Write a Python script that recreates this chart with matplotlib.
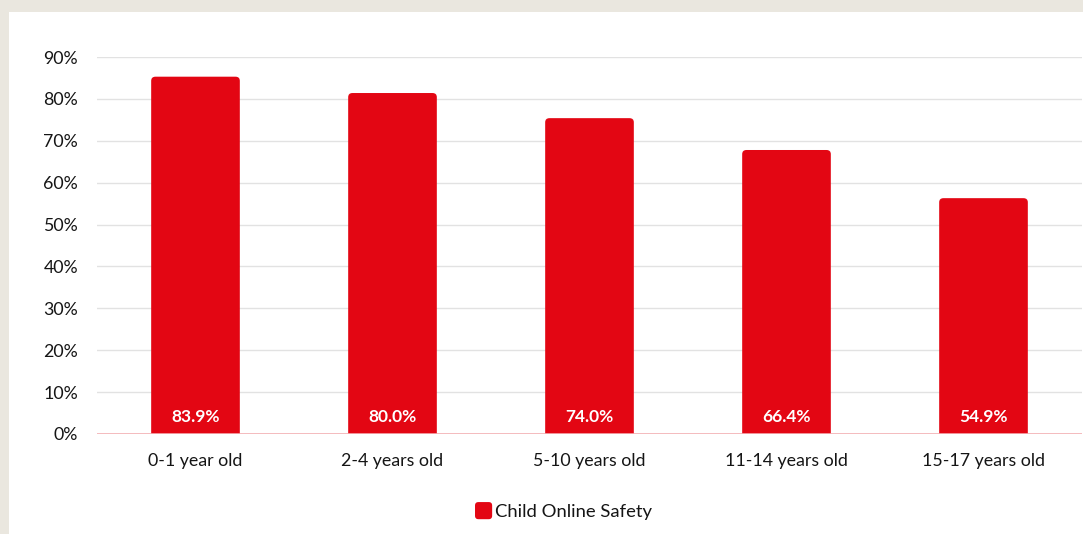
import matplotlib
matplotlib.use("Agg")
import matplotlib.pyplot as plt
from matplotlib.patches import FancyBboxPatch, Rectangle, Patch
from matplotlib.legend_handler import HandlerPatch

categories = ["0-1 year old", "2-4 years old", "5-10 years old", "11-14 years old", "15-17 years old"]
bar_heights = [85.3, 81.4, 75.4, 67.8, 56.3]
value_labels = ["83.9%", "80.0%", "74.0%", "66.4%", "54.9%"]
yticks = [0, 10, 20, 30, 40, 50, 60, 70, 80, 90]
ytick_labels = [f"{t}%" for t in yticks]
series_name = "Child Online Safety"

RED = "#E30613"
TEXT = "#151515"
plt.rcParams['font.family'] = ['Lato', 'DejaVu Sans']

W, H = 1083, 534
fig = plt.figure(figsize=(W / 100, H / 100), dpi=100)
fig.patch.set_facecolor("#EAE7DF")
panel = Rectangle((9 / W, 0), 1 - 9 / W, 1 - 12 / H, transform=fig.transFigure,
                  facecolor="white", edgecolor="none", zorder=-10)
fig.add_artist(panel)

ax = fig.add_axes([97 / W, 1 - 434 / H, (1082 - 97) / W, (434 - 57) / H])
ax.set_facecolor("none")
ax.set_xlim(-0.5, len(categories) - 0.5)
ax.set_ylim(0, 90)

bw = 0.45
for i, h in enumerate(bar_heights):
    p = FancyBboxPatch((i - bw / 2, -3), bw, h + 3,
                       boxstyle="round,pad=0,rounding_size=0.022",
                       mutation_aspect=45, facecolor=RED, edgecolor="none", zorder=2)
    ax.add_patch(p)
    ax.text(i, 4, value_labels[i], ha="center", va="center", color="white",
            fontsize=12.5, fontweight="bold", zorder=3)

ax.set_yticks(yticks)
ax.set_yticklabels(ytick_labels)
ax.set_xticks(range(len(categories)))
ax.set_xticklabels(categories)
ax.tick_params(axis="both", length=0, labelsize=12.8, colors=TEXT)
ax.tick_params(axis="y", pad=13.5)
ax.tick_params(axis="x", pad=14)
ax.grid(axis="y", color="#E2E2E2", linewidth=1, zorder=1)
ax.axhline(0, color="#F4B0B4", linewidth=1.2, zorder=2.5)
for s in ax.spines.values():
    s.set_visible(False)
ax.set_axisbelow(True)


class RoundHandler(HandlerPatch):
    def create_artists(self, legend, orig_handle, xdescent, ydescent, width, height, fontsize, trans):
        s = min(width, height)
        p = FancyBboxPatch((-xdescent + (width - s) / 2, -ydescent + (height - s) / 2), s, s,
                           boxstyle=f"round,pad=0,rounding_size={s * 0.2}",
                           facecolor=orig_handle.get_facecolor(), edgecolor="none", transform=trans)
        return [p]


h = Patch(facecolor=RED, edgecolor="none", label=series_name)
leg = fig.legend(handles=[h], loc="center", bbox_to_anchor=(563 / W, 1 - 511 / H), frameon=False,
                 handlelength=1.05, handleheight=1.05, handletextpad=0.1, fontsize=13.3,
                 handler_map={Patch: RoundHandler()})
for t in leg.get_texts():
    t.set_color(TEXT)

fig.savefig("out.png", dpi=100, facecolor=fig.get_facecolor())
